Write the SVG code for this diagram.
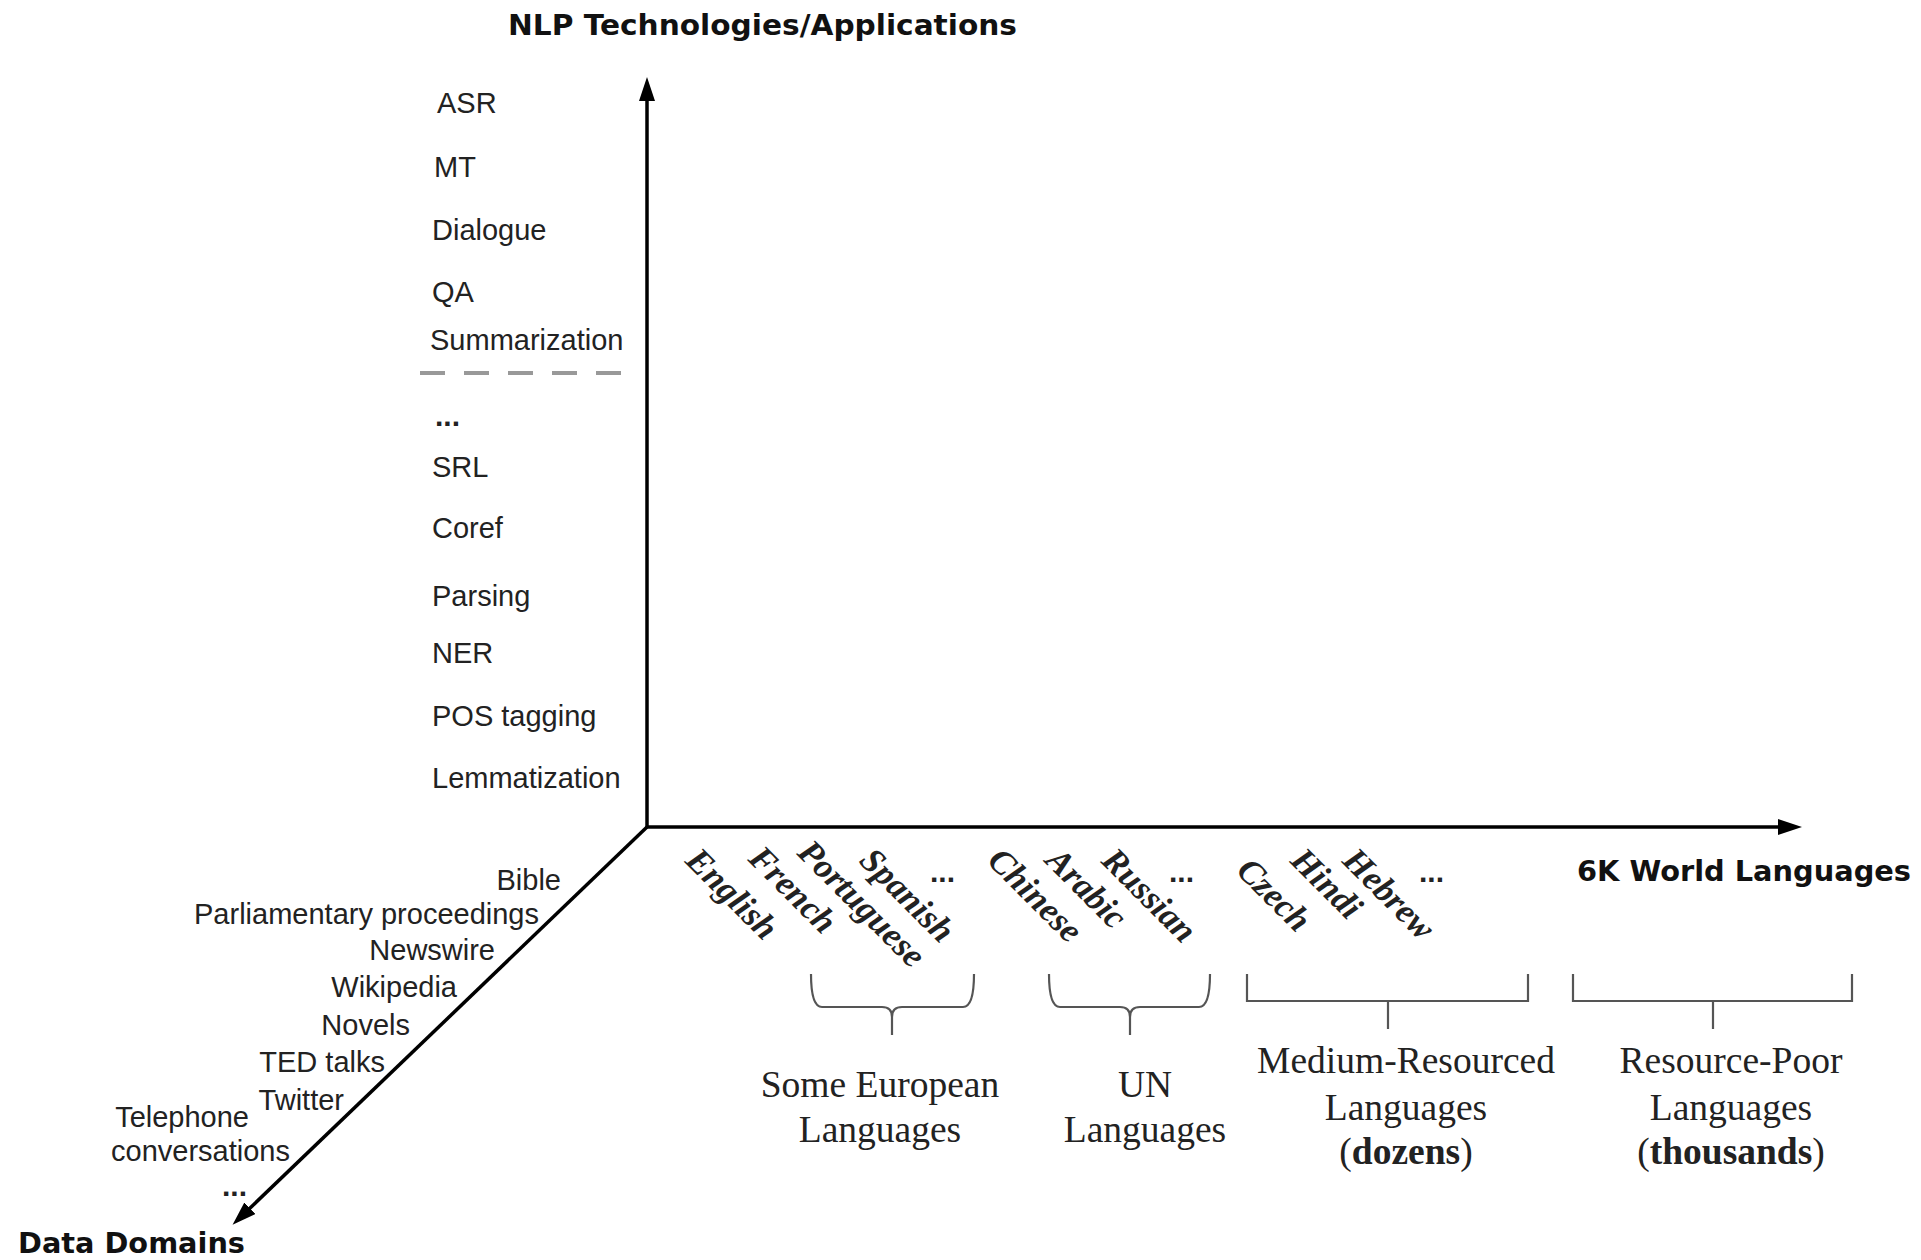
<svg xmlns="http://www.w3.org/2000/svg" width="1921" height="1260" viewBox="0 0 1921 1260">
<style>
.axis{stroke:#000;stroke-width:3.5;fill:none}
.ttl{font-family:"DejaVu Sans",Verdana,sans-serif;font-weight:bold;font-size:28px;fill:#111}
.lbl{font-family:"Liberation Sans",Arial,sans-serif;font-size:29px;fill:#222}
.lang{font-family:"Liberation Serif","Times New Roman",serif;font-weight:bold;font-style:italic;font-size:35px;fill:#222}
.dots{font-family:"Liberation Sans",Arial,sans-serif;font-weight:bold;font-size:30px;fill:#222}
.grp{font-family:"Liberation Serif","Times New Roman",serif;font-size:37.5px;fill:#222;text-anchor:middle}
.brk{stroke:#555;stroke-width:2.2;fill:none}
</style>
<defs>
<marker id="ah" markerUnits="userSpaceOnUse" markerWidth="26" markerHeight="18" refX="4" refY="8" orient="auto">
<path d="M0,0 L24,8 L0,16 z" fill="#000"/>
</marker>
</defs>
<g id="connectors">
<line class="axis" x1="647" y1="827" x2="647" y2="97" marker-end="url(#ah)"/>
<line class="axis" x1="647" y1="827" x2="1782" y2="827" marker-end="url(#ah)"/>
<line class="axis" x1="647" y1="827" x2="247" y2="1211" marker-end="url(#ah)"/>
</g>
<g id="axis-titles">
<text class="ttl" x="508" y="35" textLength="509" lengthAdjust="spacingAndGlyphs">NLP Technologies/Applications</text>
<text class="ttl" x="1577" y="881" textLength="334" lengthAdjust="spacingAndGlyphs">6K World Languages</text>
<text class="ttl" x="18" y="1253" textLength="227" lengthAdjust="spacingAndGlyphs">Data Domains</text>
</g>
<g id="technologies">
<text class="lbl" x="437" y="113">ASR</text>
<text class="lbl" x="434" y="177">MT</text>
<text class="lbl" x="432" y="240">Dialogue</text>
<text class="lbl" x="432" y="302">QA</text>
<text class="lbl" x="430" y="350">Summarization</text>
<line x1="420" y1="373" x2="621" y2="373" stroke="#999" stroke-width="4" stroke-dasharray="25 19"/>
<text class="dots" x="435" y="426">...</text>
<text class="lbl" x="432" y="477">SRL</text>
<text class="lbl" x="432" y="538">Coref</text>
<text class="lbl" x="432" y="606">Parsing</text>
<text class="lbl" x="432" y="663">NER</text>
<text class="lbl" x="432" y="726">POS tagging</text>
<text class="lbl" x="432" y="788">Lemmatization</text>
</g>
<g id="domains" class="lbl" text-anchor="end">
<text x="561" y="890">Bible</text>
<text x="539" y="924">Parliamentary proceedings</text>
<text x="495" y="960">Newswire</text>
<text x="457" y="997">Wikipedia</text>
<text x="410" y="1035">Novels</text>
<text x="385" y="1072">TED talks</text>
<text x="344" y="1110">Twitter</text>
<text x="249" y="1127">Telephone</text>
<text x="290" y="1161">conversations</text>
</g>
<text class="dots" x="222" y="1196">...</text>
<g id="languages">
<text class="lang" transform="translate(684,862) rotate(45)">English</text>
<text class="lang" transform="translate(747,860) rotate(45)">French</text>
<text class="lang" transform="translate(796,854) rotate(45)">Portuguese</text>
<text class="lang" transform="translate(858,862) rotate(45)">Spanish</text>
<text class="dots" x="930" y="882">...</text>
<text class="lang" transform="translate(986,862) rotate(45)">Chinese</text>
<text class="lang" transform="translate(1044,862) rotate(45)">Arabic</text>
<text class="lang" transform="translate(1100,862) rotate(45)">Russian</text>
<text class="dots" x="1169" y="882">...</text>
<text class="lang" transform="translate(1235,872) rotate(45)">Czech</text>
<text class="lang" transform="translate(1289,862) rotate(45)">Hindi</text>
<text class="lang" transform="translate(1341,862) rotate(45)">Hebrew</text>
<text class="dots" x="1419" y="882">...</text>
</g>
<g id="group-european">
<path class="brk" d="M811,974 Q811,1007 822,1007 L882,1007 Q892,1007 892,1017 M974,974 Q974,1007 963,1007 L902,1007 Q892,1007 892,1017 L892,1035"/>
<text class="grp" x="880" y="1097">Some European</text>
<text class="grp" x="880" y="1142">Languages</text>
</g>
<g id="group-un">
<path class="brk" d="M1049,974 Q1049,1007 1060,1007 L1120,1007 Q1130,1007 1130,1017 M1210,974 Q1210,1007 1199,1007 L1140,1007 Q1130,1007 1130,1017 L1130,1035"/>
<text class="grp" x="1145" y="1097">UN</text>
<text class="grp" x="1145" y="1142">Languages</text>
</g>
<g id="group-medium">
<path class="brk" d="M1247,974 V1001 H1528 V974 M1388,1001 V1029"/>
<text class="grp" x="1406" y="1073">Medium-Resourced</text>
<text class="grp" x="1406" y="1120">Languages</text>
<text class="grp" x="1406" y="1164">(<tspan font-weight="bold">dozens</tspan>)</text>
</g>
<g id="group-poor">
<path class="brk" d="M1573,974 V1001 H1852 V974 M1713,1001 V1029"/>
<text class="grp" x="1731" y="1073">Resource-Poor</text>
<text class="grp" x="1731" y="1120">Languages</text>
<text class="grp" x="1731" y="1164">(<tspan font-weight="bold">thousands</tspan>)</text>
</g>
</svg>
